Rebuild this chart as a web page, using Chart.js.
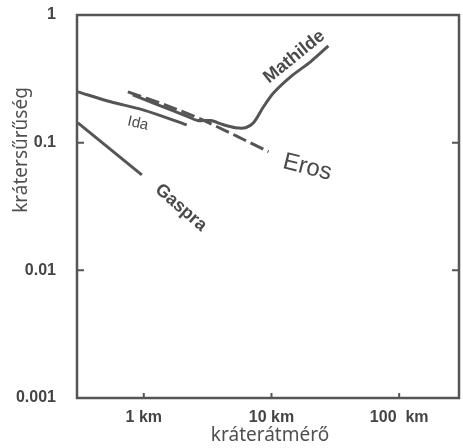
<!DOCTYPE html>
<html>
<head>
<meta charset="utf-8">
<script src="https://cdn.jsdelivr.net/npm/chart.js@4/dist/chart.umd.min.js"></script>
<style>
  html, body { margin: 0; padding: 0; background: #fff; }
  #wrap { width: 463px; height: 448px; }
</style>
</head>
<body>
<div id="wrap"><canvas id="craterChart" width="463" height="448"></canvas></div>
<script>
// crater diameter (km) vs crater density, log-log
const xTicks = [1, 10, 100];
const yTicks = [1, 0.1, 0.01, 0.001];

const idaX = [0.305, 0.55, 1.0, 2.17];
const idaY = [0.25, 0.209, 0.18, 0.138];

const gaspraX = [0.305, 0.965];
const gaspraY = [0.143, 0.056];

const erosX = [0.75, 1.5, 3.0, 9.48];
const erosY = [0.25, 0.196, 0.148, 0.085];

const mathildeX = [0.82, 1.29, 2.21, 2.64, 3.34, 4.22, 5.23, 6.26, 7.23, 8.66, 10.4, 14.1, 20.2, 27.9];
const mathildeY = [0.237, 0.198, 0.160, 0.149, 0.149, 0.138, 0.131, 0.131, 0.143, 0.191, 0.246, 0.328, 0.43, 0.573];

// text labels: name, x, y, angle (deg), font
const labelNames = ["Mathilde", "Ida", "Eros", "Gaspra"];
const labelX = [15.1, 0.9, 19.1, 1.95];
const labelY = [0.47, 0.141, 0.064, 0.031];
const labelAngle = [-39, 13, 14, 41];
const labelFont = ["bold 18px 'Liberation Sans'", "15px 'Liberation Sans'", "24px 'Liberation Sans'", "bold 18px 'Liberation Sans'"];

const ink = "#555";

function pts(xs, ys) {
  return xs.map((x, i) => ({ x: x, y: ys[i] }));
}

function series(label, xs, ys, dash) {
  return {
    label: label,
    data: pts(xs, ys),
    showLine: true,
    borderColor: ink,
    borderWidth: 3,
    borderDash: dash || [],
    pointRadius: 0,
    tension: 0.3,
    fill: false,
  };
}

const decorPlugin = {
  id: "decor",
  afterDraw(chart) {
    const ctx = chart.ctx;
    const a = chart.chartArea;
    const xs = chart.scales.x;
    const ys = chart.scales.y;
    ctx.save();

    // frame
    ctx.strokeStyle = ink;
    ctx.lineWidth = 2.5;
    ctx.strokeRect(a.left, a.top, a.right - a.left, a.bottom - a.top);

    // inward ticks
    ctx.lineWidth = 2;
    [0.1, 0.01].forEach(v => {
      const py = ys.getPixelForValue(v);
      ctx.beginPath();
      ctx.moveTo(a.left, py); ctx.lineTo(a.left + 7, py);
      ctx.moveTo(a.right, py); ctx.lineTo(a.right - 7, py);
      ctx.stroke();
    });
    xTicks.forEach(v => {
      const px = xs.getPixelForValue(v);
      ctx.beginPath();
      ctx.moveTo(px, a.bottom); ctx.lineTo(px, a.bottom - 5);
      ctx.stroke();
    });

    // curve labels
    ctx.fillStyle = "#4a4a4a";
    ctx.textAlign = "center";
    ctx.textBaseline = "middle";
    labelNames.forEach((name, i) => {
      ctx.save();
      ctx.translate(xs.getPixelForValue(labelX[i]), ys.getPixelForValue(labelY[i]));
      ctx.rotate(labelAngle[i] * Math.PI / 180);
      ctx.font = labelFont[i];
      ctx.fillText(name, 0, 0);
      ctx.restore();
    });

    // y axis title
    ctx.save();
    ctx.translate(22, 150);
    ctx.rotate(-Math.PI / 2);
    ctx.font = "19px 'Noto Sans'";
    ctx.fillStyle = "#505050";
    ctx.fillText("krátersűrűség", 0, 0);
    ctx.restore();

    // x axis title
    ctx.font = "19px 'Noto Sans'";
    ctx.fillStyle = "#505050";
    ctx.fillText("kráterátmérő", 270, 436);

    ctx.restore();
  },
};

new Chart(document.getElementById("craterChart"), {
  type: "scatter",
  data: {
    datasets: [
      series("Ida", idaX, idaY),
      series("Gaspra", gaspraX, gaspraY),
      series("Eros", erosX, erosY, [14, 5]),
      series("Mathilde", mathildeX, mathildeY),
    ],
  },
  options: {
    responsive: false,
    animation: false,
    layout: { padding: { left: 0, top: 15, right: 4, bottom: 0 } },
    plugins: { legend: { display: false }, tooltip: { enabled: false } },
    scales: {
      x: {
        type: "logarithmic",
        min: 0.305,
        max: 294,
        grid: { display: false },
        border: { display: false },
        afterBuildTicks: s => { s.ticks = xTicks.map(v => ({ value: v })); },
        afterFit: s => { s.height = 50; s.paddingLeft = 0; s.paddingRight = 0; },
        ticks: {
          padding: 2,
          color: "#444",
          font: { family: "Liberation Sans", size: 16, weight: "bold" },
          callback: v => (v === 100 ? "100  km" : v + " km"),
        },
      },
      y: {
        type: "logarithmic",
        min: 0.001,
        max: 1,
        grid: { display: false },
        border: { display: false },
        afterBuildTicks: s => { s.ticks = yTicks.map(v => ({ value: v })); },
        afterFit: s => { s.width = 77; s.paddingTop = 0; s.paddingBottom = 0; },
        ticks: {
          padding: 13,
          color: "#444",
          font: { family: "Liberation Sans", size: 16, weight: "bold" },
          callback: v => String(v),
        },
      },
    },
  },
  plugins: [decorPlugin],
});
</script>
</body>
</html>
